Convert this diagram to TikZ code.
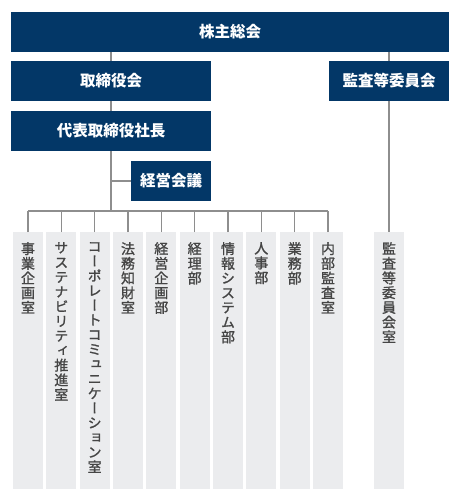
\documentclass[tikz,border=0pt]{standalone}
\usepackage{fontspec}
\usepackage{xcolor}
\setmainfont{Noto Sans CJK JP}
\newfontfamily\tatefont[RawFeature=+vert,FakeBold=1.3]{Noto Sans CJK JP}
\definecolor{navy}{HTML}{033767}
\definecolor{colgray}{HTML}{EBECEE}
\definecolor{linegray}{HTML}{8E8E8E}
\definecolor{textgray}{HTML}{454545}

\begin{document}
\begin{tikzpicture}[x=1pt,y=-1pt,
  headbox/.style={fill=navy,text=white,font=\fontsize{15.5}{18}\selectfont\bfseries,minimum height=40pt,inner sep=0pt},
  deptbox/.style={fill=colgray,minimum width=30pt,minimum height=257pt,anchor=north,inner sep=0pt},
  depttext/.style={anchor=north,inner sep=0pt,align=center,text=textgray,font=\tatefont\fontsize{14}{14.7}\selectfont},
  conn/.style={draw=linegray,line width=1.2pt}]
\useasboundingbox (0,0) rectangle (460,500);
\draw (230,32) node[headbox,minimum width=438pt](soukai) {株主総会};
\draw (111,81) node[headbox,minimum width=200pt](torishimari) {取締役会};
\draw (389,81) node[headbox,minimum width=120pt](kansa) {監査等委員会};
\draw (111,131) node[headbox,minimum width=200pt](shachou) {代表取締役社長};
\draw (171,181) node[headbox,minimum width=80pt](kaigi) {経営会議};
\foreach \i/\t in {1/事\\業\\企\\画\\室,
    2/サ\\ス\\テ\\ナ\\ビ\\リ\\テ\\ィ\\推\\進\\室,
    3/コ\\ー\\ポ\\レ\\ー\\ト\\コ\\ミ\\ュ\\ニ\\ケ\\ー\\シ\\ョ\\ン\\室,
    4/法\\務\\知\\財\\室,
    5/経\\営\\企\\画\\部,
    6/経\\理\\部,
    7/情\\報\\シ\\ス\\テ\\ム\\部,
    8/人\\事\\部,
    9/業\\務\\部,
    10/内\\部\\監\\査\\室}{
  \draw ({28+100/3*(\i-1)},232) node[deptbox](d\i) {} ++(0,10) node[depttext](t\i) {\t};
}
\draw (389,232) node[deptbox](dk) {} ++(0,10) node[depttext](tk) {監\\査\\等\\委\\員\\会\\室};
\coordinate (bus) at (111,211);
\draw[conn] (soukai.south -| torishimari.north) -- (torishimari.north);
\draw[conn] (torishimari.south) -- (shachou.north);
\draw[conn] (shachou.south) -- (bus);
\draw[conn] (kaigi.west) -- (kaigi.west -| bus);
\draw[conn] (d1.north |- bus) -- (d10.north |- bus);
\foreach \i in {1,...,10}
  \draw[conn] (d\i.north) -- (d\i.north |- bus);
\draw[conn] (soukai.south -| kansa.north) -- (kansa.north);
\draw[conn] (kansa.south) -- (dk.north);
\end{tikzpicture}
\end{document}
